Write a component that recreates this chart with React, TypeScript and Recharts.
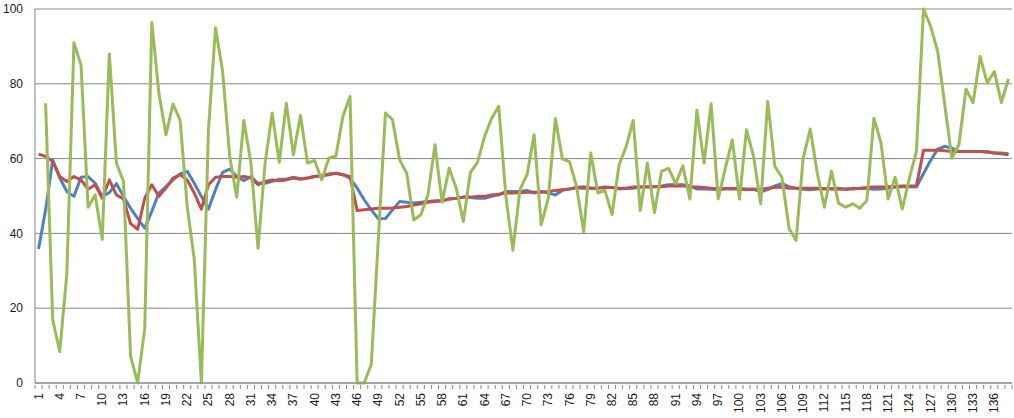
import { CartesianGrid, Line, LineChart, XAxis, YAxis } from "recharts";

const blueValues = [
  35.8, 46.3, 59.7, 54.8, 51.2, 49.9, 55, 55.2, 53.4, 49.9,
  50.9, 53.3, 49.9, 46.7, 44, 41.4, 45.9, 50.8, 52.5, 54.3,
  55.9, 56.6, 53.4, 49.9, 46.5, 51.7, 56.3, 57.2, 55.2, 54.1,
  55.2, 53.4, 53.4, 53.9, 54.5, 54.5, 55, 54.6, 54.8, 55.2,
  55.4, 55.7, 56.1, 55.7, 54.8, 52.1, 49, 46.3, 43.9, 44,
  46.3, 48.5, 48.3, 48.1, 48.3, 48.5, 48.7, 48.7, 49.2, 49.4,
  49.7, 49.6, 49.4, 49.4, 49.9, 50.3, 51.2, 51.2, 51.2, 51.5,
  50.8, 51.2, 50.8, 50.3, 51.5, 51.9, 52.3, 52.5, 52.1, 52.1,
  52.4, 52.3, 51.9, 52, 52.1, 52.4, 52.5, 52.5, 52.7, 53,
  53, 53, 52.7, 51.9, 51.9, 51.8, 51.7, 51.9, 51.9, 51.8,
  51.7, 51.8, 51.1, 51.7, 52.7, 53.3, 52.5, 52.1, 51.8, 51.7,
  51.9, 52, 52, 52.1, 51.8, 52.1, 52, 52, 51.8, 51.9,
  52.1, 52.4, 52.5, 52.5, 52.4, 56, 59.5, 62.5, 63.3, 62.8,
  61.9, 61.9, 61.9, 61.9, 61.9, 61.5, 61.5, 61.3,
];

const redValues = [
  61.2, 60.6, 59.2, 55.2, 53.9, 55.2, 54.3, 51.8, 53, 49.4,
  54.3, 50.3, 49.2, 42.6, 41.1, 49.4, 53, 49.9, 52.1, 54.8,
  55.7, 54.3, 50.8, 46.5, 53, 55, 55.2, 55.2, 55, 55.2,
  54.8, 53, 53.9, 54.3, 54.1, 54.3, 54.8, 54.5, 54.8, 55.2,
  55.4, 55.9, 56.1, 55.7, 55.2, 46.1, 46.3, 46.5, 46.7, 46.7,
  46.8, 47, 47.2, 47.6, 47.9, 48.3, 48.5, 48.7, 49.2, 49.4,
  49.7, 49.7, 49.9, 49.9, 50.3, 50.5, 50.8, 50.8, 50.9, 51,
  51, 51, 51.2, 51.5, 51.7, 51.9, 52.2, 52.1, 52.1, 52.1,
  52.3, 52.3, 52.1, 52.1, 52.4, 52.4, 52.4, 52.5, 52.5, 52.7,
  52.7, 52.7, 52.5, 52.4, 52.3, 52.1, 52, 52, 52, 52,
  51.9, 51.8, 51.8, 52.1, 52.3, 52.4, 52.1, 52.1, 52.1, 52.1,
  52.1, 51.9, 51.9, 51.8, 51.9, 51.9, 52.1, 52.3, 52.4, 52.4,
  52.5, 52.5, 52.7, 52.7, 52.7, 62.2, 62.2, 62.2, 62.1, 61.9,
  61.9, 61.9, 61.9, 61.9, 61.7, 61.5, 61.3, 61,
];

const greenValues: (number | null)[] = [
  null, 74.8, 16.9, 8.4, 29.3, 91, 85, 47, 50.3, 38.4,
  88, 58.8, 53.9, 7.2, 0, 14.6, 96.4, 77.5, 66.4, 74.6,
  70.2, 47.2, 33, 0, 67.7, 95, 83.3, 60.6, 49.7, 70.2,
  58.8, 36, 58.8, 72.2, 59, 74.8, 61, 71.5, 58.8, 59.5,
  54.3, 60.1, 60.7, 71.3, 76.6, 0, 0, 5, 38.7, 72.2,
  70.4, 59.7, 56.1, 43.6, 45, 50.3, 63.7, 48.3, 57.4, 52.1,
  43.2, 56.3, 59, 65.9, 70.8, 74, 50, 35.5, 51.7, 55.7,
  66.4, 42.3, 49.4, 70.7, 59.9, 59.2, 52.5, 40.5, 61.5, 50.8,
  51.5, 45, 58.3, 63.2, 70.2, 46.1, 58.8, 45.6, 56.6, 57.4,
  53.3, 58.1, 49.2, 72.9, 58.8, 74.7, 49.2, 57.4, 65, 49.2,
  67.7, 60.6, 47.9, 75.3, 57.9, 55, 41.4, 38.1, 60.1, 67.9,
  56.1, 47, 56.6, 48.1, 47, 47.9, 46.7, 48.8, 70.8, 64.1,
  49.2, 55, 46.5, 54.8, 61.9, 100, 95.4, 88.7, 74.4, 60.1,
  63.7, 78.6, 75, 87.3, 80.2, 83.3, 75, 81.3,
];

const categories = blueValues.map((_, i) => String(i + 1));
const yTicks = [0, 20, 40, 60, 80, 100];

const data = categories.map((label, i) => ({
  label,
  blue: blueValues[i],
  red: redValues[i],
  green: greenValues[i],
}));

const WIDTH = 1014;
const HEIGHT = 418;
const Y_AXIS_W = 35;
const RIGHT = 2;
const PLOT_W = WIDTH - Y_AXIS_W - RIGHT;
const BAND = PLOT_W / categories.length;
const AXIS_COLOR = "#868686";
const FONT = "'Liberation Sans', Arial, sans-serif";

// tick marks sit on category boundaries, labels on every 3rd category
function CategoryTick(props: any) {
  const { x, y, payload, index } = props;
  const left = x - BAND / 2;
  return (
    <g>
      <line x1={left} x2={left} y1={y} y2={y + 4} stroke={AXIS_COLOR} />
      {index === categories.length - 1 && (
        <line x1={x + BAND / 2} x2={x + BAND / 2} y1={y} y2={y + 4} stroke={AXIS_COLOR} />
      )}
      {index % 3 === 0 && (
        <text
          x={x}
          y={y + 8}
          transform={`rotate(-90, ${x}, ${y + 8})`}
          textAnchor="end"
          dominantBaseline="central"
          fontSize={12}
          fontFamily={FONT}
          fill="#1a1a1a"
        >
          {payload.value}
        </text>
      )}
    </g>
  );
}

export default function App() {
  return (
    <div style={{ width: WIDTH, height: HEIGHT, background: "#fff" }}>
      <style>{"body{margin:0}"}</style>
      <LineChart
        width={WIDTH}
        height={HEIGHT}
        data={data}
        margin={{ top: 9, right: RIGHT, bottom: 0, left: 0 }}
      >
        <CartesianGrid stroke={AXIS_COLOR} vertical={false} />
        <XAxis
          dataKey="label"
          interval={0}
          height={35}
          tickSize={0}
          tickLine={false}
          padding={{ left: BAND / 2, right: BAND / 2 }}
          axisLine={{ stroke: AXIS_COLOR }}
          tick={<CategoryTick />}
        />
        <YAxis
          domain={[0, 100]}
          ticks={yTicks}
          width={Y_AXIS_W}
          tickLine={false}
          tickMargin={6}
          axisLine={{ stroke: AXIS_COLOR }}
          tick={{ fill: "#1a1a1a", fontSize: 12, fontFamily: FONT }}
        />
        <Line
          type="linear"
          dataKey="blue"
          stroke="#4F81BD"
          strokeWidth={3}
          strokeLinejoin="round"
          dot={false}
          activeDot={false}
          isAnimationActive={false}
        />
        <Line
          type="linear"
          dataKey="red"
          stroke="#C0504D"
          strokeWidth={3}
          strokeLinejoin="round"
          dot={false}
          activeDot={false}
          isAnimationActive={false}
        />
        <Line
          type="linear"
          dataKey="green"
          stroke="#9BBB59"
          strokeWidth={3}
          strokeLinejoin="round"
          dot={false}
          activeDot={false}
          isAnimationActive={false}
        />
      </LineChart>
    </div>
  );
}
